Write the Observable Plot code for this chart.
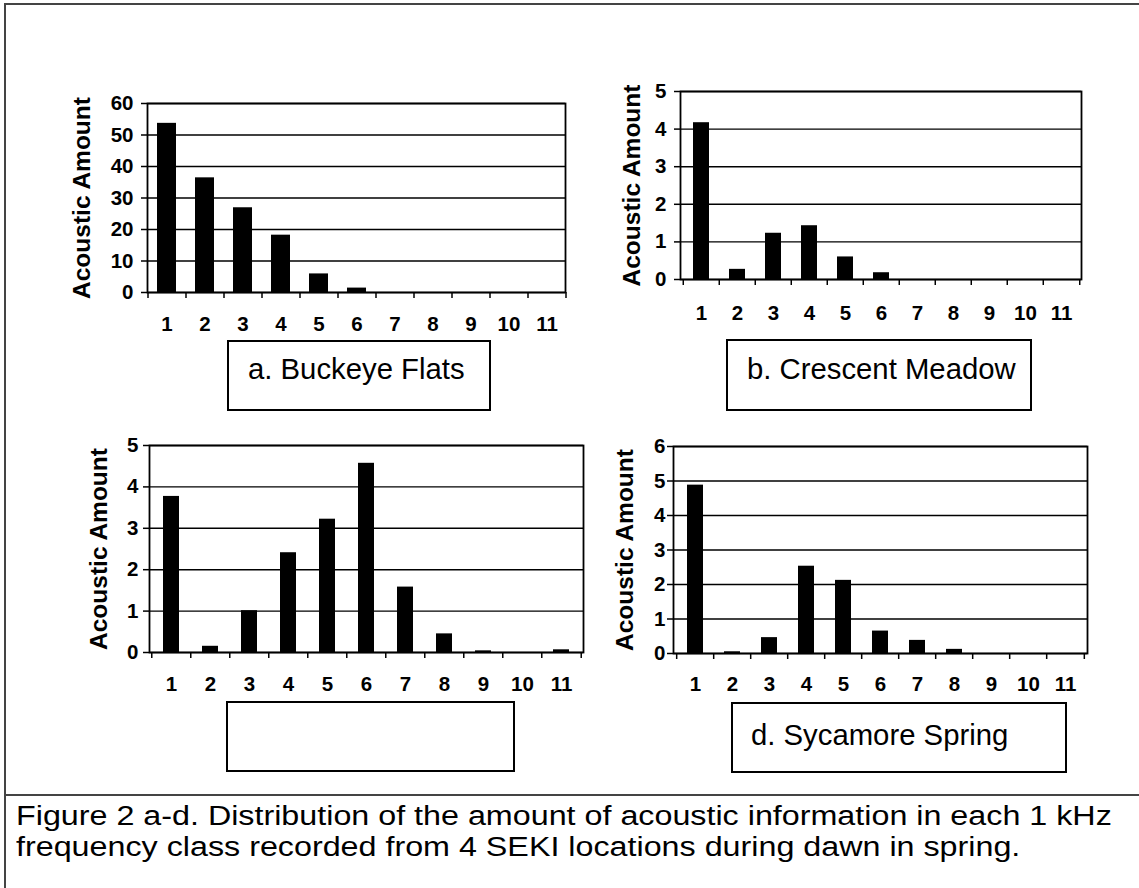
<!DOCTYPE html>
<html>
<head>
<meta charset="utf-8">
<script src="https://cdn.jsdelivr.net/npm/d3@7"></script>
<script src="https://cdn.jsdelivr.net/npm/@observablehq/plot@0.6"></script>
<style>
  html, body { margin: 0; padding: 0; background: #fff; }
  #root { position: relative; width: 1139px; height: 888px; overflow: hidden; font-family: "Liberation Sans", Arial, sans-serif; }
  .frame { position: absolute; box-sizing: border-box; }
  .box { position: absolute; box-sizing: border-box; border: 2px solid #000; background: #fff; }
  .box span { position: absolute; font-size: 29.3px; line-height: 29px; white-space: nowrap; color: #000; }
  #caption { position: absolute; left: 16px; top: 801px; font-size: 27px; line-height: 31px; color: #000; white-space: nowrap; transform: scaleX(1.195); transform-origin: 0 0; }
</style>
</head>
<body>
<div id="root"></div>
<script>
// ---- data ----
const categories = [1, 2, 3, 4, 5, 6, 7, 8, 9, 10, 11];
const buckeyeFlats   = [53.7, 36.4, 26.9, 18.2, 5.9, 1.4, 0, 0, 0, 0, 0];
const crescentMeadow = [4.17, 0.27, 1.23, 1.43, 0.6, 0.18, 0, 0, 0, 0, 0];
const panelCValues   = [3.77, 0.15, 1.01, 2.41, 3.22, 4.57, 1.58, 0.45, 0.04, 0, 0.065];
const sycamoreSpring = [4.88, 0.05, 0.46, 2.53, 2.12, 0.65, 0.38, 0.12, 0, 0, 0];
const yTicksA = [0, 10, 20, 30, 40, 50, 60];
const yTicksB = [0, 1, 2, 3, 4, 5];
const yTicksC = [0, 1, 2, 3, 4, 5];
const yTicksD = [0, 1, 2, 3, 4, 5, 6];
const yAxisLabel = "Acoustic Amount";
const panelLabels = ["a. Buckeye Flats", "b. Crescent Meadow", "", "d. Sycamore Spring"];
const captionText = ["Figure 2 a-d. Distribution of the amount of acoustic information in each 1 kHz",
                     "frequency class recorded from 4 SEKI locations during dawn in spring."];

// ---- layout ----
const root = document.getElementById("root");
const outer = document.createElement("div");
outer.className = "frame";
Object.assign(outer.style, {left: "4px", top: "3px", width: "1200px", height: "793px", border: "2px solid #444"});
root.appendChild(outer);
const capFrame = document.createElement("div");
capFrame.className = "frame";
Object.assign(capFrame.style, {left: "4px", top: "794px", width: "1200px", height: "200px", borderLeft: "2px solid #444", borderTop: "2px solid #444"});
root.appendChild(capFrame);

function panel({values, yticks, L, R, T, B, pad, tickPad, labelDx, xLabelPad}) {
  const mL = 110, mR = 20, mT = 30, mB = 55;
  const width = R - L + mL + mR, height = B - T + mT + mB;
  const step = (R - L) / categories.length;
  const data = categories.map((k, i) => ({k, v: values[i]}));
  const y0 = yticks[0], y1 = yticks[yticks.length - 1];
  const svg = Plot.plot({
    width, height, marginLeft: mL, marginRight: mR, marginTop: mT, marginBottom: mB,
    style: {fontFamily: "'Liberation Sans', Arial, sans-serif", fontSize: "20px", fontWeight: "bold", background: "transparent", overflow: "visible", color: "#000"},
    x: {type: "band", domain: categories, paddingInner: pad, paddingOuter: pad / 2, label: null},
    y: {domain: [y0, y1], label: null},
    marks: [
      Plot.ruleY(yticks, {stroke: "#000", strokeWidth: 1.4}),
      Plot.barY(data, {x: "k", y: "v", fill: "#000"}),
      Plot.frame({stroke: "#000", strokeWidth: 1.8}),
      Plot.axisY({ticks: yticks, tickSize: 6, tickPadding: tickPad, tickFormat: d => String(d), fontSize: 20.5, fontWeight: "bold", label: null, strokeWidth: 1.5}),
      Plot.axisX({ticks: categories, tickSize: 6, tickFormat: () => "", dx: -step / 2, label: null, strokeWidth: 1.5}),
      Plot.axisX({ticks: [categories[categories.length - 1]], tickSize: 6, tickFormat: () => "", dx: step / 2, label: null, strokeWidth: 1.5}),
      Plot.axisX({ticks: categories, tickSize: 0, tickPadding: xLabelPad, tickFormat: d => String(d), fontSize: 20.5, fontWeight: "bold", label: null}),
      Plot.text([yAxisLabel], {y: () => (y0 + y1) / 2, frameAnchor: "left", textAnchor: "middle", lineAnchor: "middle", rotate: -90, dx: labelDx, fontSize: 24.5, fontWeight: "bold", fill: "#000"})
    ]
  });
  svg.style.position = "absolute";
  svg.style.left = (L - mL) + "px";
  svg.style.top = (T - mT) + "px";
  root.appendChild(svg);
}

panel({values: buckeyeFlats,   yticks: yTicksA, L: 147, R: 565, T: 103, B: 292, pad: 0.5,  tickPad: 8, labelDx: -65, xLabelPad: 24});
panel({values: crescentMeadow, yticks: yTicksB, L: 680, R: 1081, T: 91, B: 279, pad: 0.56, tickPad: 8, labelDx: -48, xLabelPad: 26});
panel({values: panelCValues,   yticks: yTicksC, L: 149, R: 583, T: 445, B: 652, pad: 0.6,  tickPad: 5, labelDx: -50, xLabelPad: 24});
panel({values: sycamoreSpring, yticks: yTicksD, L: 673, R: 1087, T: 446, B: 653, pad: 0.56, tickPad: 2, labelDx: -48, xLabelPad: 23});

const boxes = [
  {l: 227, t: 340, w: 264, h: 71, tx: 19, ty: 12},
  {l: 726, t: 339, w: 306, h: 72, tx: 19, ty: 13},
  {l: 226, t: 701, w: 289, h: 71, tx: 19, ty: 16},
  {l: 731, t: 702, w: 336, h: 71, tx: 18, ty: 16}
];
boxes.forEach((b, i) => {
  const d = document.createElement("div");
  d.className = "box";
  Object.assign(d.style, {left: b.l + "px", top: b.t + "px", width: b.w + "px", height: b.h + "px"});
  const s = document.createElement("span");
  s.textContent = panelLabels[i];
  s.style.left = b.tx + "px";
  s.style.top = b.ty + "px";
  d.appendChild(s);
  root.appendChild(d);
});

const cap = document.createElement("div");
cap.id = "caption";
cap.innerHTML = captionText.map(t => `<div>${t}</div>`).join("");
root.appendChild(cap);
</script>
</body>
</html>
